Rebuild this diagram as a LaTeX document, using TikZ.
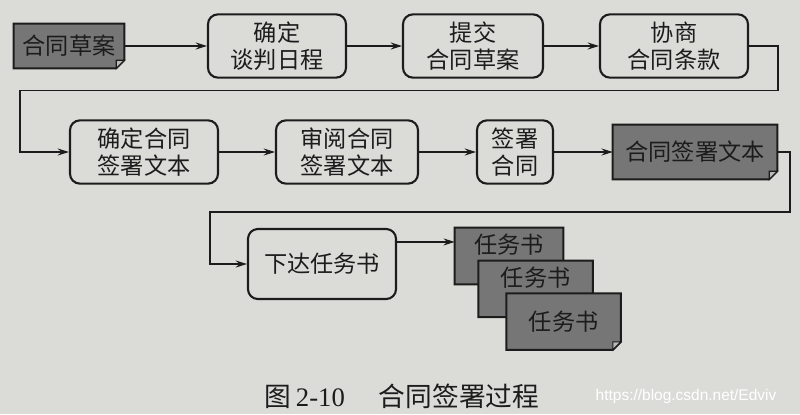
\documentclass[tikz,border=0pt]{standalone}
\usepackage{fontspec}
\setmainfont{Noto Sans CJK SC}
\newfontfamily\capserif{Liberation Serif}
\newfontfamily\marksans{Liberation Sans}
\definecolor{cpaper}{RGB}{219,219,216}
\definecolor{cdocgray}{RGB}{118,118,118}
\definecolor{cfold}{RGB}{185,185,182}
\definecolor{cink}{RGB}{28,28,28}
\usetikzlibrary{arrows.meta,backgrounds}
% dog-eared sheet behind a named node
\newcommand{\docsheet}[1]{%
  \begin{pgfonlayer}{background}
    \filldraw[csheet] (#1.north west) -- (#1.north east) -- ([yshift=0.2cm]#1.south east)
      -- ([xshift=-0.2cm]#1.south east) -- (#1.south west) -- cycle;
    \filldraw[csheet,fill=cfold,line width=0.8pt] ([yshift=0.2cm]#1.south east)
      -- ([xshift=-0.2cm,yshift=0.2cm]#1.south east) -- ([xshift=-0.2cm]#1.south east) -- cycle;
  \end{pgfonlayer}}

\begin{document}
\begin{tikzpicture}[
  cstep/.style={draw=cink,line width=1.5pt,rounded corners=7pt,minimum width=3.5cm,minimum height=1.58cm,
    align=center,text=cink,font=\fontsize{16.5}{19.5}\selectfont,inner sep=2pt},
  cdoc/.style={minimum width=2.85cm,minimum height=1.4cm,align=center,text=cink,
    font=\fontsize{16.5}{19.5}\selectfont,inner sep=2pt},
  cdocup/.style={cdoc,text depth=0.62cm},
  csheet/.style={draw=cink,line width=1.4pt,fill=cdocgray},
  carr/.style={-{Stealth[length=8pt,width=5pt]},line width=0.8pt,cink}
]
  \begin{pgfonlayer}{background}
    \fill[cpaper] (0,0) rectangle (20,10.35);
  \end{pgfonlayer}
  \useasboundingbox (0,0) rectangle (20,10.35);
  % Row 1 (top)
  \node[cdoc,minimum width=2.75cm,minimum height=1.1cm] (draft) at (1.725,9.2) {合同草案};
  \docsheet{draft}
  \node[cstep,minimum width=3.45cm] (schedule) at (6.925,9.2) {确定\\谈判日程};
  \node[cstep] (submit) at (11.825,9.2) {提交\\合同草案};
  \node[cstep,minimum width=3.7cm] (negotiate) at (16.85,9.2) {协商\\合同条款};
  % Row 2 (middle)
  \node[cstep,minimum width=3.7cm] (settext) at (3.6,6.55) {确定合同\\签署文本};
  \node[cstep,minimum width=3.55cm] (review) at (8.675,6.55) {审阅合同\\签署文本};
  \node[cstep,minimum width=1.9cm] (sign) at (12.875,6.55) {签署\\合同};
  \node[cdoc,minimum width=4.1cm,minimum height=1.35cm] (signed) at (17.375,6.55) {合同签署文本};
  \docsheet{signed}
  % Row 3 (bottom)
  \node[cstep,minimum width=3.7cm,minimum height=1.75cm] (dispatch) at (8.05,3.75) {下达任务书};
  \node[cdocup,minimum width=2.7cm] (task1) at (12.725,3.95) {任务书};
  \docsheet{task1}
  \node[cdocup] (task2) at (13.39,3.13) {任务书};
  \docsheet{task2}
  \node[cdoc] (task3) at (14.09,2.31) {任务书};
  \docsheet{task3}
  % Connecting arrows
  \draw[carr] (draft.east) -- (schedule.west);
  \draw[carr] (schedule.east) -- (submit.west);
  \draw[carr] (submit.east) -- (negotiate.west);
  \coordinate (turnA) at (19.45,8.09);
  \coordinate (turnB) at (0.5,8.09);
  \draw[carr] (negotiate.east) -| (turnA) -- (turnB) |- (settext.west);
  \draw[carr] (settext.east) -- (review.west);
  \draw[carr] (review.east) -- (sign.west);
  \draw[carr] (sign.east) -- (signed.west);
  \coordinate (turnC) at (19.75,5.05);
  \coordinate (turnD) at (5.25,5.05);
  \draw[carr] (signed.east) -| (turnC) -- (turnD) |- (dispatch.west);
  \coordinate (dispout) at ([yshift=-0.35cm]dispatch.north east);
  \draw[carr] (dispout) -- (dispout -| task1.west);
  % Caption
  \node[text=cink] (caption) at (10.05,0.43) {\fontsize{19}{22}\selectfont 图\,{\capserif 2-10}\hspace{0.85cm}合同签署过程};
  \node[text=white] (mark) at (17.15,0.43) {\fontsize{11}{13}\selectfont\marksans https://blog.csdn.net/Edviv};
\end{tikzpicture}
\end{document}
